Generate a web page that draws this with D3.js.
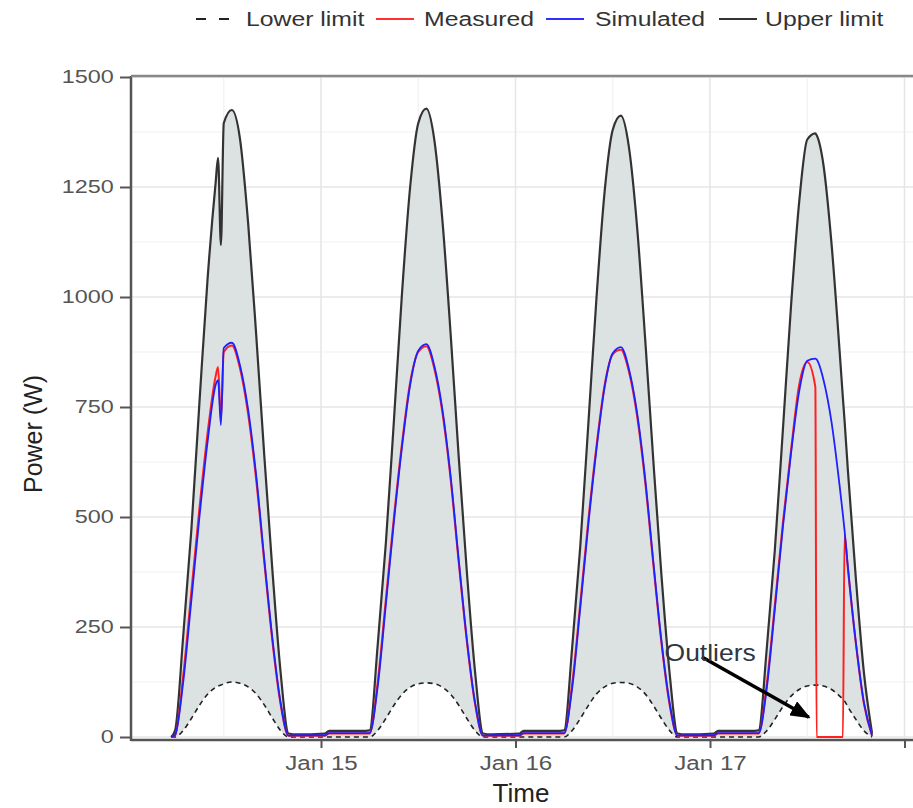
<!DOCTYPE html>
<html>
<head>
<meta charset="utf-8">
<script src="https://cdn.jsdelivr.net/npm/d3@7"></script>
<style>
  body { margin: 0; background: #fff; }
  svg text { font-family: "Liberation Sans", Arial, sans-serif; }
</style>
</head>
<body>
<svg id="chart" width="913" height="808"></svg>
<script>
// time in hours since Jan 14 00:00, shared by all series
const hours = [
  5.5, 6, 7, 8, 9, 10, 11, 11.3, 11.65, 12, 13, 14, 15, 16, 17, 18, 19, 20,
  21, 24.5, 25, 29.5,
  30, 31, 32, 33, 34, 35, 36, 37, 38, 39, 40, 41, 42, 43, 44,
  45, 48.5, 49, 53.5,
  54, 55, 56, 57, 58, 59, 60, 61, 62, 63, 64, 65, 66, 67, 68,
  69, 72.5, 73, 77.5,
  78, 79, 80, 81, 82, 83, 84, 85, 85.15, 86, 87, 88, 88.4, 88.6, 89, 90, 91, 92
];

const upperLimit = [
  0, 15, 230, 470, 760, 1040, 1260, 1316, 1118, 1395, 1425, 1360, 1170, 915, 640, 380, 150, 8,
  6, 8, 14, 14,
  15, 210, 440, 720, 1010, 1250, 1395, 1428, 1355, 1170, 915, 635, 375, 150, 8,
  6, 8, 14, 14,
  15, 205, 435, 715, 1000, 1240, 1380, 1412, 1340, 1160, 905, 630, 370, 148, 8,
  6, 8, 14, 14,
  15, 200, 425, 700, 980, 1215, 1358, 1372, 1368, 1300, 1120, 875, 770, 720, 610, 360, 145, 8
];

const lowerLimit = [
  0, 0, 15, 42, 72, 97, 113, 116, 118, 121, 125, 122, 114, 98, 73, 43, 15, 0,
  0, 0, 0, 0,
  0, 15, 42, 72, 97, 113, 121, 123, 121, 113, 97, 72, 42, 15, 0,
  0, 0, 0, 0,
  0, 15, 42, 72, 98, 114, 122, 124, 122, 114, 98, 72, 42, 15, 0,
  0, 0, 0, 0,
  0, 14, 40, 69, 93, 108, 116, 118, 118, 116, 108, 93, 86, 82, 69, 40, 14, 0
];

const measured = [
  0, 4, 140, 330, 520, 690, 820, 841, 720, 875, 890, 838, 735, 585, 398, 218, 76, 3,
  3, 3, 8, 8,
  8, 125, 312, 500, 668, 806, 875, 888, 836, 735, 585, 396, 217, 76, 3,
  3, 3, 8, 8,
  8, 122, 305, 495, 662, 800, 870, 880, 830, 730, 580, 394, 215, 75, 3,
  3, 3, 8, 8,
  8, 120, 300, 488, 652, 800, 852, 795, 0, 0, 0, 0, 0, 460, 385, 212, 75, 3
];

const simulated = [
  0, 5, 125, 310, 500, 670, 800, 811, 709, 884, 896, 845, 745, 595, 405, 225, 80, 3,
  4, 4, 9, 9,
  9, 115, 300, 490, 660, 800, 878, 893, 842, 742, 592, 402, 222, 80, 3,
  4, 4, 9, 9,
  9, 112, 295, 485, 655, 795, 872, 886, 836, 737, 588, 400, 220, 80, 3,
  4, 4, 9, 9,
  9, 110, 290, 478, 645, 785, 855, 860, 858, 812, 715, 570, 505, 470, 390, 215, 78, 3
];

const yTicks = [0, 250, 500, 750, 1000, 1250, 1500];
const xTickHours = [24, 48, 72, 96];
const xTickLabels = ['Jan 15', 'Jan 16', 'Jan 17', ''];
const legendLabels = ['Lower limit', 'Measured', 'Simulated', 'Upper limit'];

// annotation anchor points (hour, value)
const outlierLabel = 'Outliers';
const outlierText = [66.4, 172];
const outlierArrow = [[71.0, 182], [84.2, 45]];

const T0 = Date.UTC(2020, 0, 14);
const toDate = h => new Date(T0 + h * 3600e3);

const rows = hours.map((h, i) => ({
  t: toDate(h), up: upperLimit[i], lo: lowerLimit[i], me: measured[i], si: simulated[i]
}));

const svg = d3.select('#chart');
const panel = {left: 131, right: 913, top: 76, bottom: 740};

const x = d3.scaleUtc().domain([toDate(0), toDate(96)]).range([126.5, 904.5]);
const y = d3.scaleLinear().domain([0, 1500]).range([737, 77]);

// grid
const grid = svg.append('g');
d3.range(0, 1501, 125).forEach(v => {
  grid.append('line')
    .attr('x1', panel.left).attr('x2', panel.right)
    .attr('y1', y(v)).attr('y2', y(v))
    .attr('stroke', v % 250 === 0 ? '#e6e6e6' : '#f1f1f1')
    .attr('stroke-width', v % 250 === 0 ? 1.4 : 1);
});
d3.range(12, 97, 12).forEach(h => {
  grid.append('line')
    .attr('x1', x(toDate(h))).attr('x2', x(toDate(h)))
    .attr('y1', panel.top).attr('y2', panel.bottom)
    .attr('stroke', h % 24 === 0 ? '#e6e6e6' : '#f1f1f1')
    .attr('stroke-width', h % 24 === 0 ? 1.6 : 1.2);
});

// band between limits
svg.append('path')
  .datum(rows)
  .attr('d', d3.area().curve(d3.curveMonotoneX)
    .x(d => x(d.t)).y0(d => y(d.lo)).y1(d => y(d.up)))
  .attr('fill', '#dce2e2');

const line = key => d3.line().curve(d3.curveMonotoneX).x(d => x(d.t)).y(d => y(d[key]));

svg.append('path').datum(rows).attr('d', line('lo'))
  .attr('fill', 'none').attr('stroke', '#222').attr('stroke-width', 1.6)
  .attr('stroke-dasharray', '5,4');
svg.append('path').datum(rows).attr('d', line('up'))
  .attr('fill', 'none').attr('stroke', '#333').attr('stroke-width', 2.2);
svg.append('path').datum(rows).attr('d', line('me'))
  .attr('fill', 'none').attr('stroke', '#ff2020').attr('stroke-width', 2);
svg.append('path').datum(rows).attr('d', line('si'))
  .attr('fill', 'none').attr('stroke', '#2020ff').attr('stroke-width', 1.8);

// axes
const yAxis = svg.append('g')
  .attr('transform', 'translate(130,0)')
  .call(d3.axisLeft(y).tickValues(yTicks).tickSize(10).tickFormat(d3.format('d')));
yAxis.select('.domain').remove();
yAxis.selectAll('line').attr('stroke', '#555').attr('stroke-width', 2);
yAxis.selectAll('text')
  .attr('x', -12.5).attr('transform', 'scale(1.3,1)')
  .attr('fill', '#555').style('font-size', '18px');

const xAxis = svg.append('g')
  .attr('transform', `translate(0,${panel.bottom})`)
  .call(d3.axisBottom(x)
    .tickValues(xTickHours.map(toDate))
    .tickSize(8).tickPadding(7)
    .tickFormat((d, i) => xTickLabels[i]));
xAxis.select('.domain').remove();
xAxis.selectAll('line').attr('stroke', '#555').attr('stroke-width', 2);
xAxis.selectAll('text')
  .attr('transform', 'scale(1.15,1)')
  .attr('fill', '#555').style('font-size', '21px');

svg.append('line')
  .attr('x1', panel.left).attr('x2', panel.right)
  .attr('y1', panel.bottom).attr('y2', panel.bottom)
  .attr('stroke', '#555').attr('stroke-width', 2.5);
svg.append('line')
  .attr('x1', panel.left).attr('x2', panel.left)
  .attr('y1', panel.top).attr('y2', panel.bottom + 1)
  .attr('stroke', '#555').attr('stroke-width', 2.5);
svg.append('line')
  .attr('x1', panel.left).attr('x2', panel.right)
  .attr('y1', panel.top).attr('y2', panel.top)
  .attr('stroke', '#888').attr('stroke-width', 2.5);

// axis titles
svg.append('text')
  .attr('x', 521).attr('y', 802)
  .attr('text-anchor', 'middle')
  .style('font-size', '26px').attr('fill', '#222')
  .text('Time');
svg.append('text')
  .attr('transform', 'translate(42,434) rotate(-90)')
  .attr('text-anchor', 'middle')
  .style('font-size', '25px').attr('fill', '#222')
  .text('Power (W)');

// legend
const legendKeys = [
  {x: 196, color: '#222', dash: '10,13'},
  {x: 376, color: '#ff3030', dash: null},
  {x: 546, color: '#3030ff', dash: null},
  {x: 719, color: '#333', dash: null}
];
const legendTextX = [246, 424, 595, 765];
const legend = svg.append('g');
legendLabels.forEach((lab, i) => {
  const k = legendKeys[i];
  legend.append('line')
    .attr('x1', k.x).attr('x2', k.x + 38)
    .attr('y1', 19).attr('y2', 19)
    .attr('stroke', k.color).attr('stroke-width', 2)
    .attr('stroke-dasharray', k.dash);
  legend.append('text')
    .attr('transform', `translate(${legendTextX[i]},26) scale(1.18,1)`)
    .style('font-size', '21px').attr('fill', '#333')
    .text(lab);
});

// annotation
svg.append('defs').append('marker')
  .attr('id', 'arrow')
  .attr('markerUnits', 'userSpaceOnUse')
  .attr('markerWidth', 20).attr('markerHeight', 16)
  .attr('refX', 18).attr('refY', 8)
  .attr('orient', 'auto')
  .append('path').attr('d', 'M0,0 L20,8 L0,16 Z').attr('fill', '#000');

svg.append('line')
  .attr('x1', x(toDate(outlierArrow[0][0]))).attr('y1', y(outlierArrow[0][1]))
  .attr('x2', x(toDate(outlierArrow[1][0]))).attr('y2', y(outlierArrow[1][1]))
  .attr('stroke', '#000').attr('stroke-width', 3.5)
  .attr('marker-end', 'url(#arrow)');

svg.append('text')
  .attr('transform', `translate(${x(toDate(outlierText[0]))},${y(outlierText[1])}) scale(1.15,1)`)
  .style('font-size', '23px').attr('fill', '#2f3640')
  .text(outlierLabel);
</script>
</body>
</html>
